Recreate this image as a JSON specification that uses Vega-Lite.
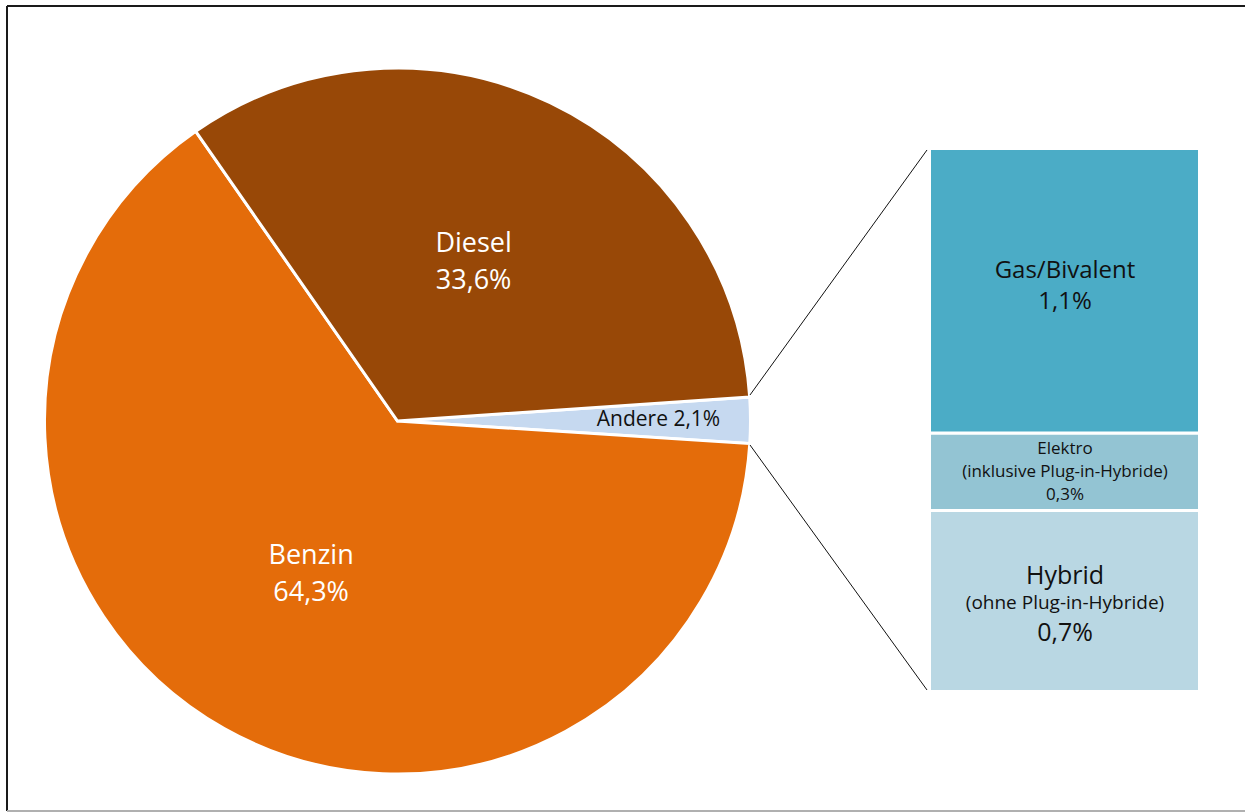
{
  "$schema": "https://vega.github.io/schema/vega-lite/v6.json",
  "width": 1239,
  "height": 805,
  "padding": {"left": 6, "top": 5, "right": 0, "bottom": 0},
  "background": "white",
  "config": {"view": {"stroke": null}, "font": "Open Sans"},
  "datasets": {
    "kraftstoff": [
      {"Kraftstoff": "Andere", "Anteil": 2.1, "Reihenfolge": 1, "Beschriftung": "Andere 2,1%"},
      {"Kraftstoff": "Benzin", "Anteil": 64.3, "Reihenfolge": 2, "Beschriftung": "Benzin\n64,3%"},
      {"Kraftstoff": "Diesel", "Anteil": 33.6, "Reihenfolge": 3, "Beschriftung": "Diesel\n33,6%"}
    ],
    "andere": [
      {"Antrieb": "Hybrid", "Anteil": 0.7, "Reihenfolge": 1, "Zusatz": "(ohne Plug-in-Hybride)", "Wert": "0,7%", "Beschriftung": "Hybrid\n(ohne Plug-in-Hybride)\n0,7%"},
      {"Antrieb": "Elektro", "Anteil": 0.3, "Reihenfolge": 2, "Zusatz": "(inklusive Plug-in-Hybride)", "Wert": "0,3%", "Beschriftung": "Elektro\n(inklusive Plug-in-Hybride)\n0,3%"},
      {"Antrieb": "Gas/Bivalent", "Anteil": 1.1, "Reihenfolge": 3, "Zusatz": "", "Wert": "1,1%", "Beschriftung": "Gas/Bivalent\n1,1%"}
    ]
  },
  "layer": [
    {
      "data": {"name": "kraftstoff"},
      "mark": {"type": "arc", "outerRadius": 353, "stroke": "white", "strokeWidth": 3},
      "encoding": {
        "x": {"datum": 390.5, "type": "quantitative", "scale": {"domain": [0, 1239], "nice": false, "zero": false}, "axis": null},
        "y": {"datum": 1.046, "type": "quantitative", "scale": {"domain": [-0.4622, 2.6511], "nice": false, "zero": false}, "axis": null},
        "theta": {"field": "Anteil", "type": "quantitative", "stack": true, "scale": {"domain": [0, 100], "range": [1.5027, 7.7859]}},
        "order": {"field": "Reihenfolge", "type": "quantitative"},
        "color": {"field": "Kraftstoff", "type": "nominal", "scale": {"domain": ["Andere", "Benzin", "Diesel"], "range": ["#C6D9F0", "#E46C0A", "#984807"]}, "legend": null}
      }
    },
    {
      "data": {"name": "kraftstoff"},
      "mark": {"type": "text", "radius": 176, "dy": -18, "fontSize": 27, "color": "white", "lineBreak": "\n", "lineHeight": 37, "align": "center", "baseline": "middle"},
      "encoding": {
        "x": {"datum": 390.5, "type": "quantitative"},
        "y": {"datum": 1.046, "type": "quantitative"},
        "theta": {"field": "Anteil", "type": "quantitative", "stack": true},
        "order": {"field": "Reihenfolge", "type": "quantitative"},
        "text": {"field": "Beschriftung", "type": "nominal", "condition": {"test": "datum.Kraftstoff === 'Andere'", "value": ""}}
      }
    },
    {
      "data": {"name": "kraftstoff"},
      "mark": {"type": "text", "radius": 261, "fontSize": 21, "color": "#111111", "align": "center", "baseline": "middle"},
      "encoding": {
        "x": {"datum": 390.5, "type": "quantitative"},
        "y": {"datum": 1.046, "type": "quantitative"},
        "theta": {"field": "Anteil", "type": "quantitative", "stack": true},
        "order": {"field": "Reihenfolge", "type": "quantitative"},
        "text": {"condition": {"test": "datum.Kraftstoff === 'Andere'", "field": "Beschriftung", "type": "nominal"}, "value": ""}
      }
    },
    {
      "data": {"name": "andere"},
      "transform": [
        {"stack": "Anteil", "groupby": [], "sort": [{"field": "Reihenfolge", "order": "ascending"}], "as": ["Anteil_von", "Anteil_bis"]}
      ],
      "mark": {"type": "rect", "stroke": "white", "strokeWidth": 3},
      "encoding": {
        "x": {"datum": 922.5, "type": "quantitative"},
        "x2": {"datum": 1192.5},
        "y": {"field": "Anteil_von", "type": "quantitative"},
        "y2": {"field": "Anteil_bis"},
        "color": {"field": "Antrieb", "type": "nominal", "scale": {"domain": ["Gas/Bivalent", "Elektro", "Hybrid"], "range": ["#4BACC6", "#93C4D3", "#B9D7E3"]}, "legend": null}
      }
    },
    {
      "data": {"name": "andere"},
      "transform": [{"filter": "datum.Antrieb === 'Gas/Bivalent'"}],
      "mark": {"type": "rule", "color": "#111111", "strokeWidth": 1},
      "encoding": {
        "x": {"datum": 743, "type": "quantitative"},
        "y": {"datum": 1.1467, "type": "quantitative"},
        "x2": {"datum": 920},
        "y2": {"datum": 2.0942}
      }
    },
    {
      "data": {"name": "andere"},
      "transform": [{"filter": "datum.Antrieb === 'Hybrid'"}],
      "mark": {"type": "rule", "color": "#111111", "strokeWidth": 1},
      "encoding": {
        "x": {"datum": 743, "type": "quantitative"},
        "y": {"datum": 0.9533, "type": "quantitative"},
        "x2": {"datum": 920},
        "y2": {"datum": 0.0058}
      }
    },
    {
      "data": {"name": "andere"},
      "transform": [{"filter": "datum.Antrieb === 'Gas/Bivalent'"}],
      "mark": {"type": "rule", "color": "#1a1a1a", "strokeWidth": 2},
      "encoding": {
        "x": {"datum": 0, "type": "quantitative"},
        "y": {"datum": 2.6511, "type": "quantitative"},
        "x2": {"datum": 1239}
      }
    },
    {
      "data": {"name": "andere"},
      "transform": [{"filter": "datum.Antrieb === 'Gas/Bivalent'"}],
      "mark": {"type": "rule", "color": "#1a1a1a", "strokeWidth": 2},
      "encoding": {
        "x": {"datum": 0, "type": "quantitative"},
        "y": {"datum": 2.6511, "type": "quantitative"},
        "y2": {"datum": -0.4622}
      }
    },
    {
      "data": {"name": "andere"},
      "transform": [{"filter": "datum.Antrieb === 'Gas/Bivalent'"}],
      "mark": {"type": "rule", "color": "#b0b0b0", "strokeWidth": 2},
      "encoding": {
        "x": {"datum": 0, "type": "quantitative"},
        "y": {"datum": -0.4622, "type": "quantitative"},
        "x2": {"datum": 1239}
      }
    },
    {
      "data": {"name": "andere"},
      "transform": [{"filter": "datum.Antrieb === 'Gas/Bivalent'"}],
      "mark": {"type": "text", "fontSize": 24, "color": "#111111", "lineBreak": "\n", "lineHeight": 31, "align": "center", "baseline": "alphabetic"},
      "encoding": {
        "x": {"datum": 1058, "type": "quantitative"},
        "y": {"datum": 1.5992, "type": "quantitative"},
        "text": {"field": "Beschriftung", "type": "nominal"}
      }
    },
    {
      "data": {"name": "andere"},
      "transform": [{"filter": "datum.Antrieb === 'Elektro'"}],
      "mark": {"type": "text", "fontSize": 17, "color": "#111111", "lineBreak": "\n", "lineHeight": 23, "align": "center", "baseline": "alphabetic"},
      "encoding": {
        "x": {"datum": 1058, "type": "quantitative"},
        "y": {"datum": 0.9185, "type": "quantitative"},
        "text": {"field": "Beschriftung", "type": "nominal"}
      }
    },
    {
      "data": {"name": "andere"},
      "transform": [{"filter": "datum.Antrieb === 'Hybrid'"}],
      "mark": {"type": "text", "fontSize": 25, "color": "#111111", "align": "center", "baseline": "alphabetic"},
      "encoding": {
        "x": {"datum": 1058, "type": "quantitative"},
        "y": {"datum": 0.4157, "type": "quantitative"},
        "text": {"field": "Antrieb", "type": "nominal"}
      }
    },
    {
      "data": {"name": "andere"},
      "transform": [{"filter": "datum.Antrieb === 'Hybrid'"}],
      "mark": {"type": "text", "fontSize": 19, "color": "#111111", "align": "center", "baseline": "alphabetic"},
      "encoding": {
        "x": {"datum": 1058, "type": "quantitative"},
        "y": {"datum": 0.319, "type": "quantitative"},
        "text": {"field": "Zusatz", "type": "nominal"}
      }
    },
    {
      "data": {"name": "andere"},
      "transform": [{"filter": "datum.Antrieb === 'Hybrid'"}],
      "mark": {"type": "text", "fontSize": 25, "color": "#111111", "align": "center", "baseline": "alphabetic"},
      "encoding": {
        "x": {"datum": 1058, "type": "quantitative"},
        "y": {"datum": 0.1953, "type": "quantitative"},
        "text": {"field": "Wert", "type": "nominal"}
      }
    }
  ],
  "resolve": {"scale": {"color": "independent"}}
}
